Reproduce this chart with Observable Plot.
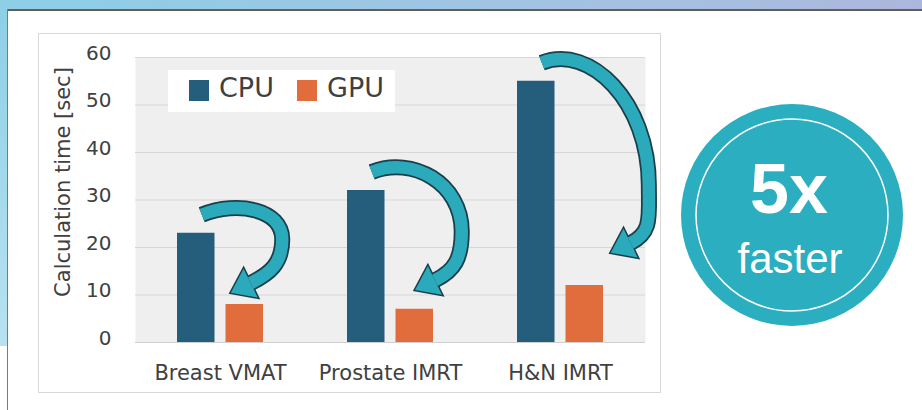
<!DOCTYPE html>
<html>
<head>
<meta charset="utf-8">
<script src="https://cdn.jsdelivr.net/npm/d3@7"></script>
<script src="https://cdn.jsdelivr.net/npm/@observablehq/plot@0.6"></script>
<style>
  html, body { margin: 0; padding: 0; background: #fff; }
  #stage { position: relative; width: 922px; height: 410px; overflow: hidden; background: #fff; }
  .abs { position: absolute; }
  #plot svg { position: absolute; left: 0; top: 0; }
  #overlay { position: absolute; left: 0; top: 0; pointer-events: none; }
</style>
</head>
<body>
<div id="stage">
  <div class="abs" style="left:0;top:0;width:922px;height:9px;background:linear-gradient(to right,#8dcfe7,#a3c3e2 60%,#acb7dc);"></div>
  <div class="abs" style="left:0;top:0;width:7px;height:346px;background:linear-gradient(to bottom,#8ccfe6,#b8e2f1);"></div>
  <div class="abs" style="left:7px;top:9px;width:915px;height:1.5px;background:#5e5e5e;"></div>
  <div class="abs" style="left:7px;top:9px;width:1px;height:401px;background:#7a7a7a;"></div>
  <div class="abs" style="left:38px;top:33px;width:621px;height:358px;border:1px solid #d8d8d8;"></div>
  <div id="plot"></div>
  <svg id="overlay" width="922" height="410"></svg>
</div>
<script>
// ---- data ----
const categories = ["Breast VMAT", "Prostate IMRT", "H&N IMRT"];
const cpuTimes = [23, 32, 55];
const gpuTimes = [8, 7, 12];
const seriesNames = ["CPU", "GPU"];
const yTicks = [0, 10, 20, 30, 40, 50, 60];
const yLabel = "Calculation time [sec]";
const badgeMain = "5x";
const badgeSub = "faster";

// ---- styles ----
const cpuColor = "#255d7d";
const gpuColor = "#e26d3c";
const textColor = "#404040";
const teal = "#2aaabb";
const arrowDark = "#1b3f4a";
const BAR_FRAC = 37.5 / 86;   // bar width as fraction of the group band
const INSET = 48.5;           // pixels

const rows = categories.map((cat, i) => ({cat, cpu: cpuTimes[i], gpu: gpuTimes[i]}));

function arrowsMark(index, scales) {
  const x = scales.x, y = scales.y;
  const bw = typeof x.bandwidth === "function" ? x.bandwidth() : x.bandwidth;
  const barW = bw * BAR_FRAC;
  const g = d3.create("svg:g").attr("aria-label", "arrows");
  const back = g.append("g"), front = g.append("g");
  let ux = -0.9, uy = 0.44;
  const ul = Math.hypot(ux, uy); ux /= ul; uy /= ul;
  const px = -uy, py = ux;
  const headLen = 22, headHalf = 16;
  rows.forEach(d => {
    const xl = x(d.cat);
    const cpuC = xl + barW / 2, gpuL = xl + bw - barW, gpuR = xl + bw;
    const yC = y(d.cpu), yG = y(d.gpu);
    const h = yG - yC;
    const S = [cpuC + 6, yC - 18];
    const T = [gpuL + 0.3 * h - 16, yG - 0.158 * h];
    const R = [gpuR + 0.2 * h + 5, S[1] + 0.737 * h - 28];
    const E = [T[0] - ux * headLen, T[1] - uy * headLen];
    const k1 = 0.45 * (R[0] - S[0]);
    const c1 = [S[0] + k1, S[1] - 0.4 * k1];
    const c2 = [R[0], R[1] - (0.55 * (R[1] - S[1]) + 16)];
    const c3 = [R[0], R[1] + 0.55 * (E[1] - R[1])];
    const k3 = 0.4 * Math.hypot(E[0] - R[0], E[1] - R[1]);
    const c4 = [E[0] - ux * k3, E[1] - uy * k3];
    const body = `M${S}C${c1} ${c2} ${R}C${c3} ${c4} ${E}`;
    const head = `M${T}L${[E[0] + px * headHalf, E[1] + py * headHalf]}L${[E[0] - px * headHalf, E[1] - py * headHalf]}Z`;
    back.append("path").attr("d", body).attr("fill", "none").attr("stroke", arrowDark).attr("stroke-width", 16);
    back.append("path").attr("d", head).attr("fill", arrowDark).attr("stroke", arrowDark).attr("stroke-width", 3).attr("stroke-linejoin", "miter");
    front.append("path").attr("d", body).attr("fill", "none").attr("stroke", teal).attr("stroke-width", 12.5);
    front.append("path").attr("d", head).attr("fill", teal);
  });
  return g.node();
}

const chart = Plot.plot({
  width: 922,
  height: 410,
  marginLeft: 135,
  marginRight: 277,
  marginTop: 57,
  marginBottom: 68,
  style: {background: "transparent", fontFamily: "DejaVu Sans", color: textColor, overflow: "visible"},
  x: {domain: categories, paddingInner: 0.494, paddingOuter: 0.247, label: null},
  y: {domain: [0, 60], ticks: yTicks, label: null},
  marks: [
    Plot.frame({fill: "#efefef", stroke: null}),
    Plot.gridY(yTicks, {stroke: "#d7d7d7", strokeOpacity: 1}),
    Plot.ruleY([0], {stroke: "#d0d0d0"}),
    Plot.barY(rows, {x: "cat", y: "cpu", fill: cpuColor, insetRight: INSET}),
    Plot.barY(rows, {x: "cat", y: "gpu", fill: gpuColor, insetLeft: INSET}),
    arrowsMark,
    Plot.axisY({ticks: yTicks, tickSize: 0, tickPadding: 24, fontSize: 20, dy: -4, fill: textColor}),
    Plot.axisX({tickSize: 0, tickPadding: 23, fontSize: 21, fill: textColor}),
    Plot.text([yLabel], {frameAnchor: "left", textAnchor: "middle", lineAnchor: "middle", rotate: -90, dx: -72, dy: -18, fontSize: 21, fill: textColor})
  ]
});
document.getElementById("plot").appendChild(chart);

// ---- legend and badge overlay ----
const ov = d3.select("#overlay");
const lg = ov.append("g").attr("transform", "translate(168,70)");
lg.append("rect").attr("width", 227).attr("height", 42).attr("fill", "#fff");
[[cpuColor, 21, 51], [gpuColor, 129, 159]].forEach(([c, sx, tx], i) => {
  lg.append("rect").attr("x", sx).attr("y", 10).attr("width", 20).attr("height", 21).attr("fill", c);
  lg.append("text").attr("x", tx).attr("y", 27).attr("font-family", "DejaVu Sans").attr("font-size", 27)
    .attr("fill", textColor).text(seriesNames[i]);
});
const bd = ov.append("g");
bd.append("circle").attr("cx", 792).attr("cy", 215).attr("r", 111).attr("fill", "#2bafc0");
bd.append("circle").attr("cx", 792).attr("cy", 215).attr("r", 96).attr("fill", "none").attr("stroke", "#fff").attr("stroke-width", 1.5);
bd.append("text").attr("x", 789).attr("y", 213).attr("text-anchor", "middle").attr("font-family", "Liberation Sans")
  .attr("font-weight", "bold").attr("font-size", 70).attr("fill", "#fff").text(badgeMain);
bd.append("text").attr("x", 790).attr("y", 273).attr("text-anchor", "middle").attr("font-family", "Liberation Sans")
  .attr("font-size", 42).attr("fill", "#fff").text(badgeSub);
</script>
</body>
</html>
